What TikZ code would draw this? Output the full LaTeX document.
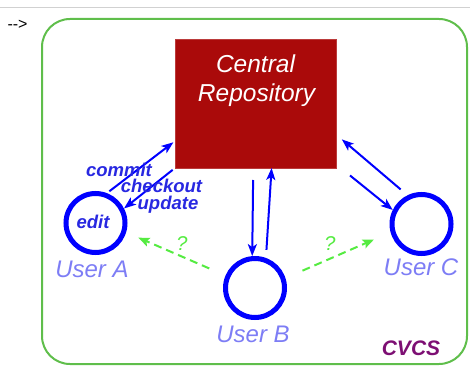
\documentclass[tikz,border=0pt]{standalone}
\usepackage{fontspec}
\setmainfont{Liberation Sans}
\usetikzlibrary{arrows.meta}

\definecolor{repored}{RGB}{170,10,10}
\definecolor{flowblue}{RGB}{0,0,255}
\definecolor{textblue}{RGB}{40,40,225}
\definecolor{userblue}{RGB}{125,125,245}
\definecolor{askgreen}{RGB}{85,235,65}
\definecolor{framegreen}{RGB}{95,190,75}
\definecolor{cvcspurple}{RGB}{125,15,115}

\tikzset{
  txt/.style={inner sep=0pt, anchor=base},
  userbox/.style={circle, draw=flowblue, line width=5pt, minimum size=59pt, inner sep=0pt},
  userlabel/.style={txt, text=userblue, font=\fontsize{24}{24}\selectfont\itshape},
  oplabel/.style={txt, text=textblue, font=\fontsize{18.5}{18.5}\selectfont\bfseries\itshape},
  flow/.style={draw=flowblue, line width=2pt, -{Stealth[length=12pt,width=9pt,inset=3pt]}},
  ask/.style={draw=askgreen, line width=2pt, dash pattern=on 8pt off 5pt,
              -{Stealth[length=11pt,width=9pt,inset=2pt]}},
  asklabel/.style={txt, text=askgreen, font=\fontsize{20}{20}\selectfont\itshape}
}

\begin{document}
\begin{tikzpicture}[x=1pt, y=-1pt]
  \useasboundingbox (0,0) rectangle (470,371);

  % page rule and arrow marker
  \draw[black!18, line width=1.5pt] (0,7.3) -- (470,7.3);
  \node[txt, font=\fontsize{16}{16}\selectfont] (marker) at (17.5,30) {-{}->};

  % outer frame
  \node[draw=framegreen, line width=2pt, rounded corners=28pt,
        minimum width=425pt, minimum height=345pt] (frame) at (254.5,191.5) {};

  % central repository
  \node[fill=repored, draw=repored!80!white, line width=0.6pt, outer sep=0pt,
        minimum width=161pt, minimum height=129pt] (repo) at (255.5,103.5) {};
  \node[txt, text=white, font=\fontsize{24.5}{24.5}\selectfont\itshape] (repoA) at (255.5,73) {Central};
  \node[txt, text=white, font=\fontsize{24.5}{24.5}\selectfont\itshape] (repoB) at (256.5,102) {Repository};

  % users
  \node[userbox] (userA) at (95.5,223) {};
  \node[userbox] (userB) at (255,288) {};
  \node[userbox] (userC) at (421.5,224) {};
  \node[oplabel] (edit) at (93,228) {edit};
  \node[userlabel] (labA) at (92,277) {User A};
  \node[userlabel] (labB) at (253,342) {User B};
  \node[userlabel] (labC) at (421,275) {User C};

  % commit / checkout / update with User A
  \draw[flow, shorten <=3pt, shorten >=2pt] (userA.69) -- (repo.205);
  \draw[flow, shorten <=3pt] (repo.south west) -- (userA.27);
  \node[oplabel] (commit) at (119,177) {commit};
  \node[oplabel] (checkout) at (161.5,192.5) {checkout};
  \node[oplabel] (update) at (168,209.5) {update};

  % User B
  \draw[flow, shorten <=12pt] (repo.268.7) -- (userB.95);
  \draw[flow, shorten <=8pt] (userB.70) -- (repo.284.3);

  % User C
  \draw[flow, shorten <=9pt, shorten >=7.7pt] (userC.116.6) -- (repo.339.9);
  \draw[flow, shorten <=18pt] (repo.323.4) -- (userC.154.6);

  % peer exchanges
  \draw[ask, shorten <=17.8pt, shorten >=13.4pt] (userB.157.6) -- (userA.343.4);
  \draw[ask, shorten <=18.6pt, shorten >=18.2pt] (userB.18.4) -- (userC.195);
  \node[asklabel] (askA) at (182,250) {?};
  \node[asklabel] (askC) at (330,250) {?};

  % system tag
  \node[txt, text=cvcspurple, font=\fontsize{21}{21}\selectfont\bfseries\itshape] (tag) at (411,355) {CVCS};
\end{tikzpicture}
\end{document}
